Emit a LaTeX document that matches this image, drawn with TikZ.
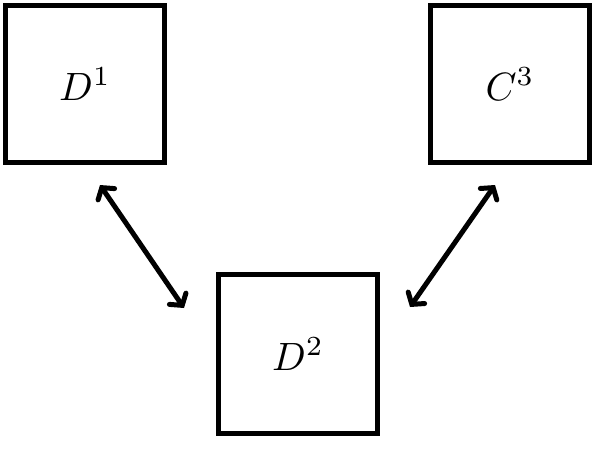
\documentclass[tikz,border=0pt]{standalone}
\usetikzlibrary{arrows.meta}
\newcommand{\bigmath}[1]{\scalebox{3.95}{$#1$}}
\begin{document}
\begin{tikzpicture}[x=1pt,y=-1pt,
  box/.style={draw,line width=5pt,minimum width=158.5pt,minimum height=156.5pt,inner sep=0pt},
  link/.style={line width=5pt,line cap=round,{Straight Barb[length=8pt,width=20pt,line cap=round]}-{Straight Barb[length=8pt,width=20pt,line cap=round]}}]
\useasboundingbox (0,0) rectangle (596,450);
\node[box] (d1) at (85,84) {\bigmath{D^1}};
\node[box] (c3) at (510,84) {\bigmath{C^3}};
\node[box, minimum height=159.5pt] (d2) at (298,354) {\bigmath{D^2}};
\coordinate (a1) at (100,185);
\coordinate (a2) at (184,308);
\coordinate (b1) at (495,185);
\coordinate (b2) at (410,307);
\draw[link] (a1) -- (a2);
\draw[link] (b1) -- (b2);
\end{tikzpicture}
\end{document}
